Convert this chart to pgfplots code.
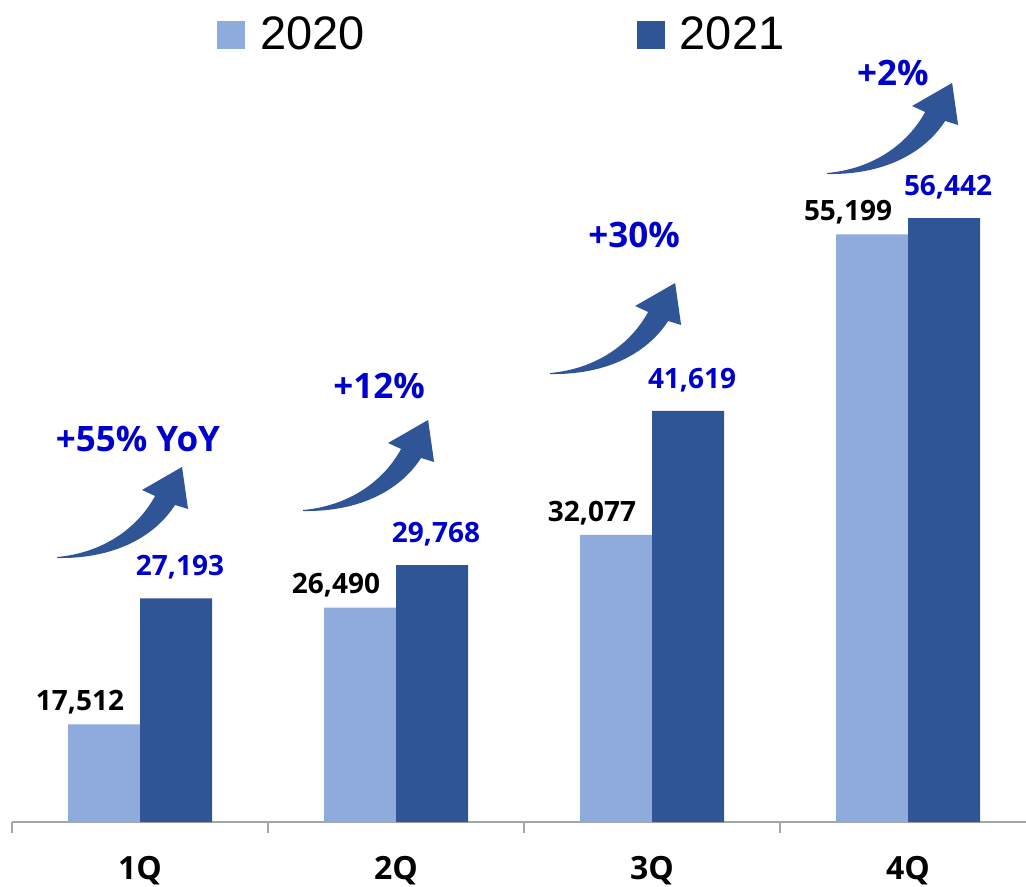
\documentclass[border=0pt]{standalone}
\usepackage{pgfplots}
\pgfplotsset{compat=1.18}
\usepackage{fontspec}
\setmainfont{Open Sans}
\newfontfamily\legfont{Liberation Sans}
\definecolor{light}{HTML}{8FAADC}
\definecolor{dark}{HTML}{2F5597}
\definecolor{lblue}{RGB}{0,0,204}
\definecolor{axgrey}{HTML}{A6A6A6}
\begin{document}
\begin{tikzpicture}
\begin{axis}[
  scale only axis, width=507pt, height=411pt,
  xmin=-0.5, xmax=3.4609, ymin=10000, ymax=73231,
  ybar=0pt, bar width=36pt,
  axis x line*=bottom, axis y line=none,
  ytick=\empty,
  xtick={0,1,2,3}, xticklabels={1Q,2Q,3Q,4Q},
  major x tick style={draw=none},
  minor xtick={-0.5,0.5,1.5,2.5},
  minor tick length=5.5pt,
  tick align=outside,
  minor x tick style={draw=axgrey, line width=0.75pt},
  x axis line style={draw=axgrey, line width=0.75pt},
  xticklabel style={font=\bfseries\fontsize{16}{19}\selectfont, yshift=-9.5pt},
  clip=false,
  legend columns=2,
  legend image code/.code={\fill[#1,draw=none] (0pt,-7pt) rectangle (14pt,7pt);},
  legend style={draw=none, fill=none, at={(0.482,0.9574)}, anchor=center,
    font=\legfont\fontsize{23.5}{28}\selectfont,
    nodes={inner sep=0pt},
    /tikz/every odd column/.append style={column sep=7.5pt},
    /tikz/every even column/.append style={column sep=136pt}},
]
\addplot[fill=light, draw=none, nodes near coords, point meta=explicit symbolic,
  every node near coord/.append style={black, anchor=center, xshift=-12pt, yshift=11pt,
    font=\bfseries\fontsize{14}{17}\selectfont}]
  coordinates {(0,17512) [17,512] (1,26490) [26,490] (2,32077) [32,077] (3,55199) [55,199]};
\addlegendentry{2020}
\addplot[fill=dark, draw=none, nodes near coords, point meta=explicit symbolic,
  every node near coord/.append style={lblue, anchor=center, xshift=2pt, yshift=15.5pt,
    font=\bfseries\fontsize{14}{17}\selectfont}]
  coordinates {(0,27193) [27,193] (1,29768) [29,768] (2,41619) [41,619] (3,56442) [56,442]};
\addlegendentry{2021}
\node[lblue, font=\bfseries\fontsize{17.5}{21}\selectfont] at (axis cs:-0.008,39462) {+55\% YoY};
\node[lblue, font=\bfseries\fontsize{17.5}{21}\selectfont] at (axis cs:0.934,43538) {+12\%};
\node[lblue, font=\bfseries\fontsize{17.5}{21}\selectfont] at (axis cs:1.930,55154) {+30\%};
\node[lblue, font=\bfseries\fontsize{17.5}{21}\selectfont] at (axis cs:2.941,67615) {+2\%};
\coordinate (t1) at (axis cs:-0.324,30385);
\coordinate (t2) at (axis cs:0.637,34000);
\coordinate (t3) at (axis cs:1.602,44538);
\coordinate (t4) at (axis cs:2.684,59923);
\end{axis}
\foreach \t in {t1,t2,t3,t4}{
  \fill[dark, shift={(\t)}] (0,0) .. controls (22.5pt,2pt) and (40pt,14pt) .. (49pt,30.5pt)
    -- (42.5pt,33.5pt) -- (62.5pt,45pt) -- (65.5pt,24pt) -- (59pt,26pt)
    .. controls (48pt,9pt) and (27pt,-1pt) .. (0,-0.5pt) -- cycle;
}
\pgfresetboundingbox
\path[use as bounding box] ([shift={(-6pt,-32.5pt)}]current axis.south west) rectangle (current axis.north east);
\end{tikzpicture}
\end{document}
